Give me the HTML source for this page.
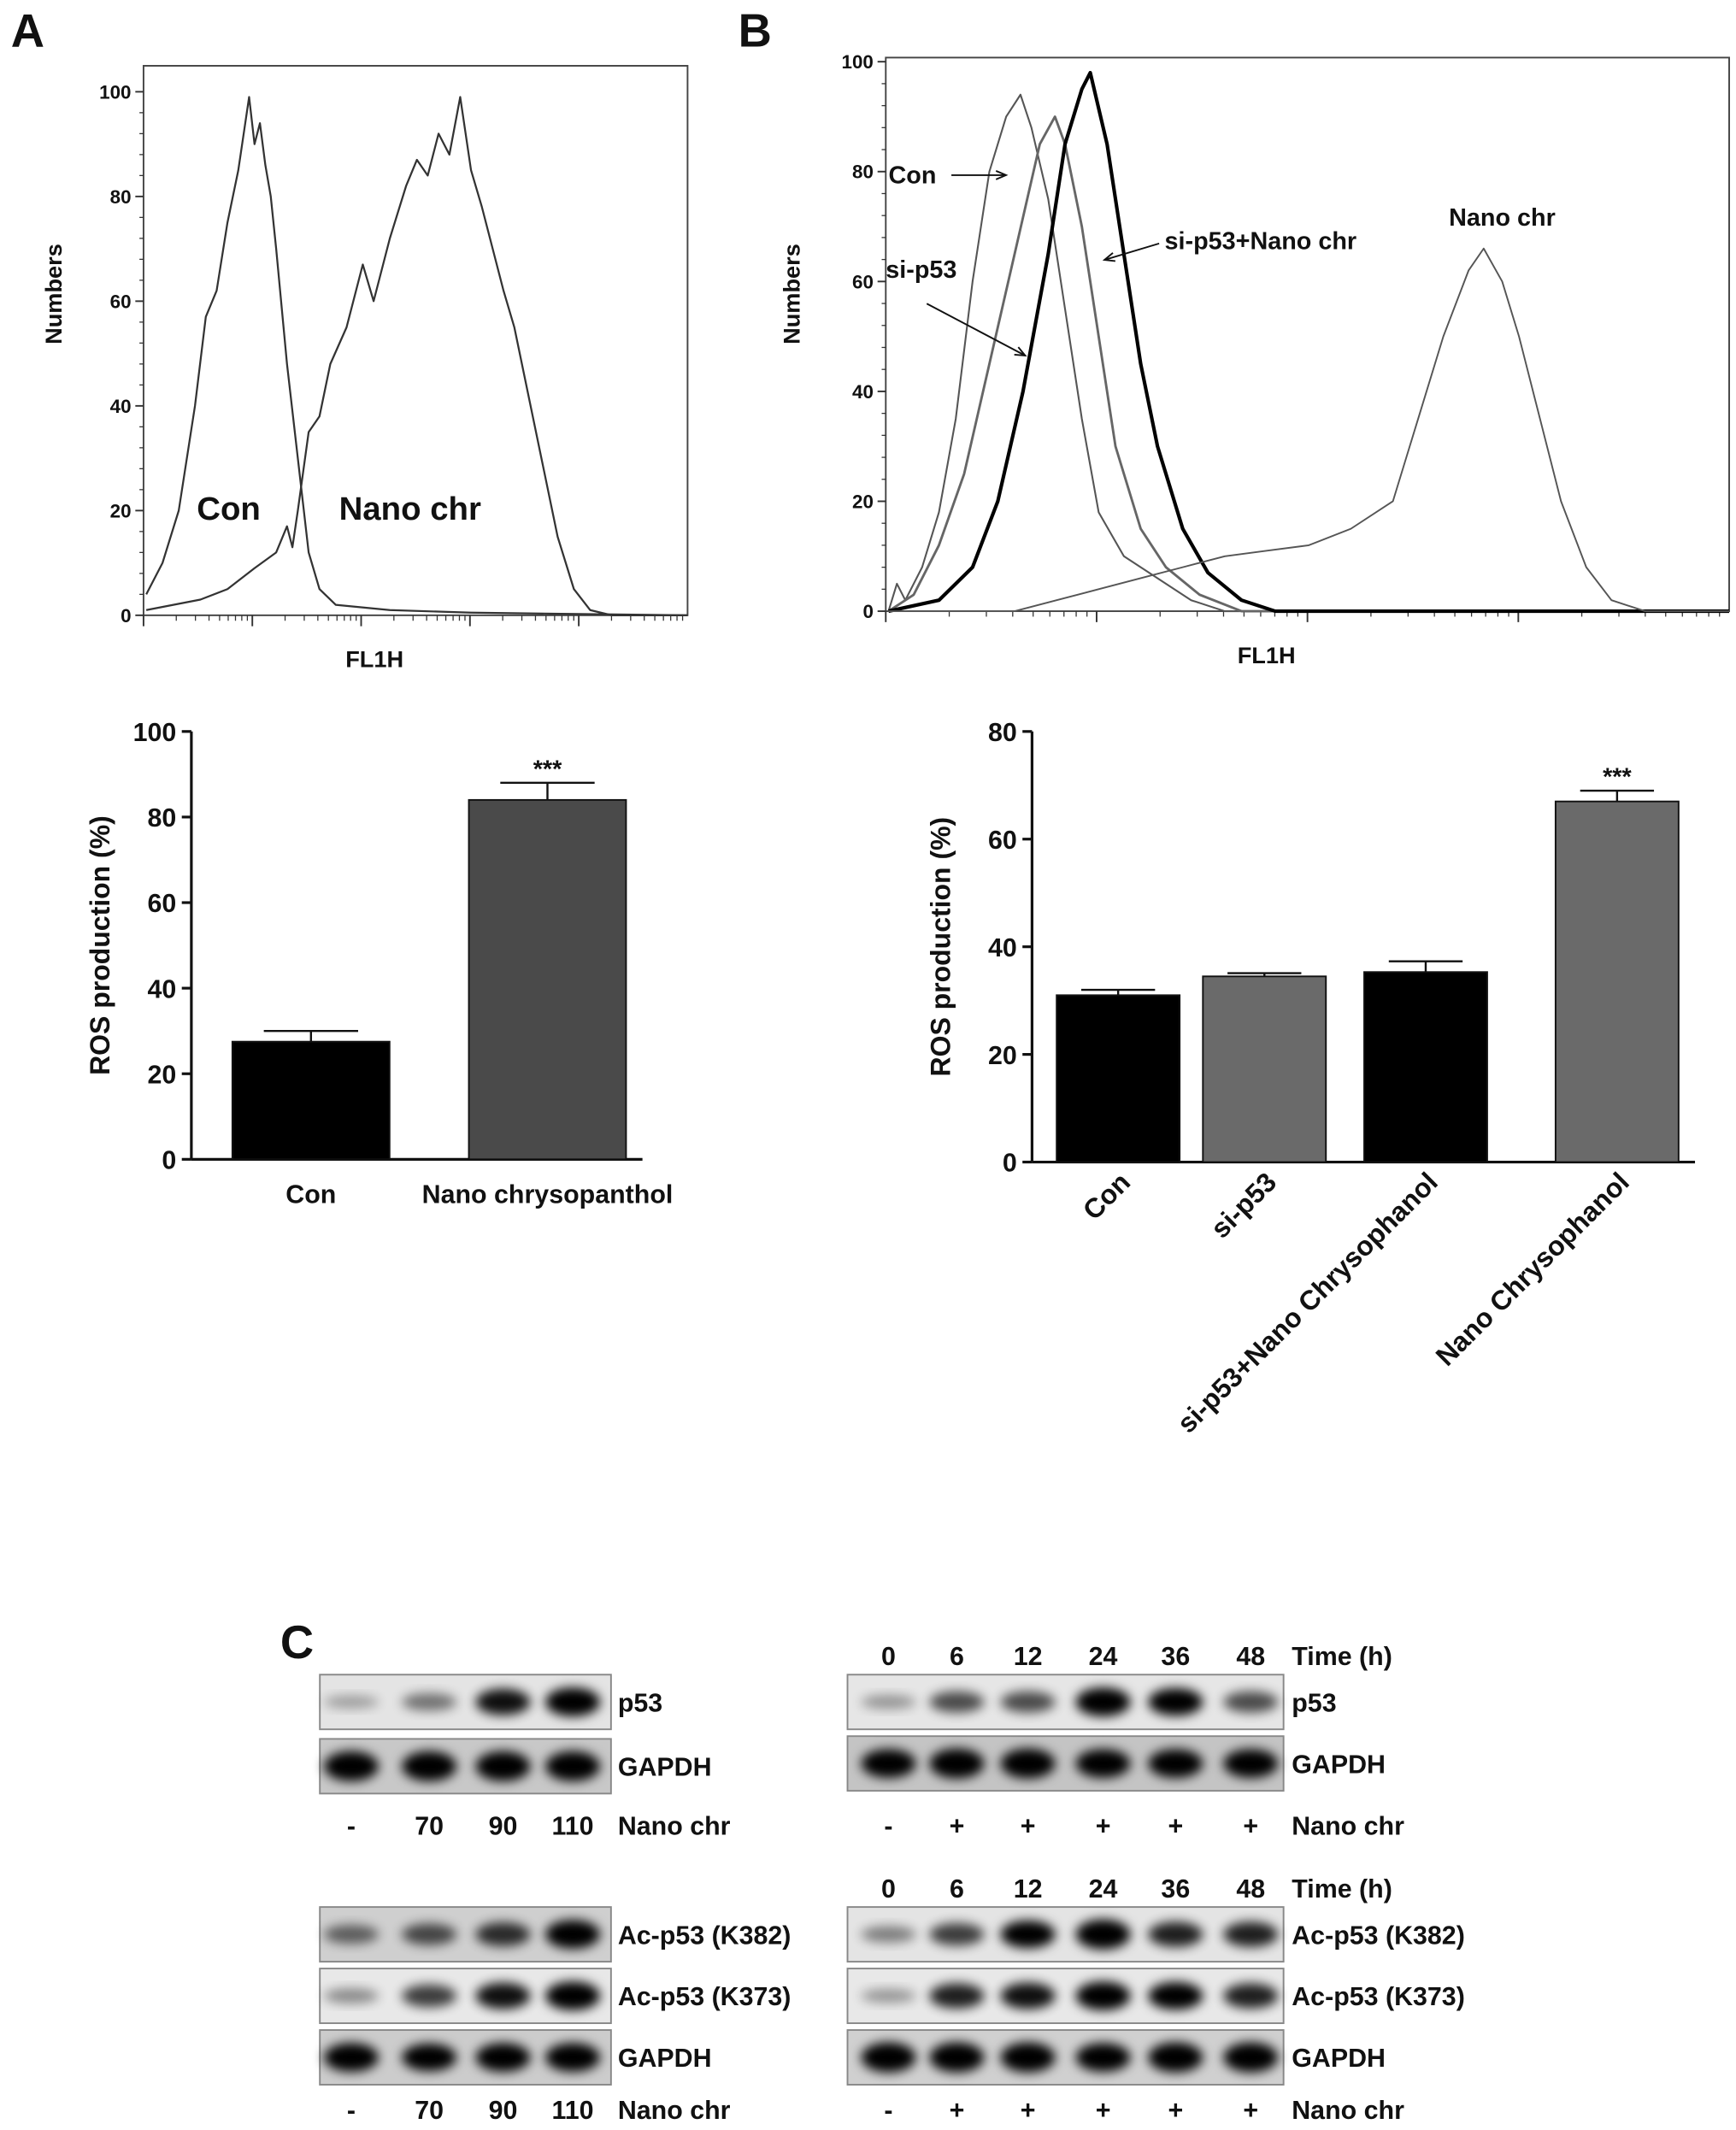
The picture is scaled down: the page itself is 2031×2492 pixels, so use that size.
<!DOCTYPE html>
<html><head><meta charset="utf-8"><style>
html,body{margin:0;padding:0;background:#fff}
svg{display:block}
text{font-family:"Liberation Sans",sans-serif;font-weight:bold;fill:#111}
</style></head><body>
<svg id="fig" width="2031" height="2492" viewBox="0 0 1270 1558" xmlns="http://www.w3.org/2000/svg">
<defs><filter id="blur" x="-50%" y="-50%" width="200%" height="200%"><feGaussianBlur stdDeviation="4"/></filter></defs>
<g id="root"></g>
</svg>
<script>
// ---------- DATA ----------
const histAConX=[0,0.03,0.06,0.09,0.11,0.13,0.15,0.17,0.18,0.19,0.2,0.21,0.22,0.23,0.24,0.26,0.28,0.3,0.32,0.35,0.45,0.6,1];
const histAConY=[4,10,20,40,57,62,75,85,92,99,90,94,86,80,70,48,30,12,5,2,1,0.5,0];
const histANanoX=[0,0.1,0.15,0.2,0.24,0.26,0.27,0.28,0.3,0.32,0.34,0.37,0.4,0.42,0.45,0.48,0.5,0.52,0.54,0.56,0.58,0.6,0.62,0.64,0.66,0.68,0.7,0.73,0.76,0.79,0.82,0.86,1];
const histANanoY=[1,3,5,9,12,17,13,20,35,38,48,55,67,60,72,82,87,84,92,88,99,85,78,70,62,55,45,30,15,5,1,0,0];
const histBConX=[0,0.01,0.02,0.04,0.06,0.08,0.1,0.12,0.14,0.157,0.17,0.19,0.21,0.23,0.25,0.28,0.32,0.36,0.4,1];
const histBConY=[0,5,2,8,18,35,60,80,90,94,88,75,55,35,18,10,6,2,0,0];
const histBSiX=[0,0.03,0.06,0.09,0.12,0.15,0.18,0.198,0.21,0.23,0.25,0.27,0.3,0.33,0.37,0.42,1];
const histBSiY=[0,3,12,25,45,65,85,90,85,70,50,30,15,8,3,0,0];
const histBSiNanoX=[0,0.06,0.1,0.13,0.16,0.19,0.21,0.23,0.24,0.26,0.28,0.3,0.32,0.35,0.38,0.42,0.46,1];
const histBSiNanoY=[0,2,8,20,40,65,85,95,98,85,65,45,30,15,7,2,0,0];
const histBNanoX=[0,0.15,0.2,0.25,0.3,0.35,0.4,0.45,0.5,0.55,0.6,0.63,0.66,0.69,0.708,0.73,0.75,0.77,0.8,0.83,0.86,0.9,1];
const histBNanoY=[0,0,2,4,6,8,10,11,12,15,20,35,50,62,66,60,50,38,20,8,2,0,0];
const barACats=["Con","Nano chrysopanthol"];
const barAVals=[27.5,84];
const barAErr=[2.5,4];
const barATicks=[0,20,40,60,80,100];
const barBCats=["Con","si-p53","si-p53+Nano Chrysophanol","Nano Chrysophanol"];
const barBVals=[31,34.5,35.3,67];
const barBErr=[1,0.6,2,2];
const barBTicks=[0,20,40,60,80];
const doseLabels=["-","70","90","110"];
const timeLabels=["0","6","12","24","36","48"];
const treatLabels=["-","+","+","+","+","+"];
const doseP53=[0.3,0.5,0.85,0.95];
const doseGapdh=[1,1,1,1];
const doseK382=[0.55,0.65,0.75,0.95];
const doseK373=[0.4,0.7,0.85,0.95];
const doseGapdh2=[0.95,0.9,0.95,0.95];
const timeP53=[0.35,0.65,0.65,0.95,0.9,0.65];
const timeGapdh=[0.95,1,1,0.95,0.95,0.95];
const timeK382=[0.45,0.7,0.9,1,0.8,0.8];
const timeK373=[0.35,0.8,0.85,0.95,0.9,0.8];
const timeGapdh2=[1,1,1,0.95,1,1];

// ---------- HELPERS ----------
const NS="http://www.w3.org/2000/svg";
const root=document.getElementById('root');
function el(tag,attrs,parent,txt){const e=document.createElementNS(NS,tag);for(const k in attrs)e.setAttribute(k,attrs[k]);if(txt!==undefined)e.textContent=txt;(parent||root).appendChild(e);return e;}

// ---------- PANEL LETTERS ----------
let t;
t=el('text',{x:8,y:34,'font-size':34});t.textContent='A';

t=el('text',{x:540,y:34,'font-size':34});t.textContent='B';

t=el('text',{x:205,y:1213,'font-size':34});t.textContent='C';


// ---------- HISTOGRAM ----------
function histogram(name,L,R,T,B,y100,ylab,series,xMajor){
  const g=el('g',{});
  
  
  const fy=v=>B-(B-y100)*v/100;
  const fx=f=>L+2+(R-L-2)*f;
  const box=el('rect',{x:L,y:T,width:R-L,height:B-T,fill:'none',stroke:'#444','stroke-width':1.2},g);
  
  for(let v=0;v<=100;v+=20){
    el('line',{x1:L-6,x2:L,y1:fy(v),y2:fy(v),stroke:'#333','stroke-width':1.2},g);
    const tl=el('text',{x:L-9,y:fy(v)+5,'font-size':14,'text-anchor':'end','font-weight':'normal'},g,String(v));
    
  }
  for(let v=0;v<100;v+=4){el('line',{x1:L-3,x2:L,y1:fy(v),y2:fy(v),stroke:'#333','stroke-width':0.8},g);}
  for(let d=0;d<xMajor;d++){
    const x0=L+(R-L)*d/xMajor, w=(R-L)/xMajor;
    el('line',{x1:x0,x2:x0,y1:B,y2:B+8,stroke:'#333','stroke-width':1.2},g);
    for(let k=2;k<10;k++){const x=x0+w*Math.log10(k);el('line',{x1:x,x2:x,y1:B,y2:B+4,stroke:'#333','stroke-width':0.8},g);}
  }
  const yl=el('text',{x:0,y:0,'font-size':17,'text-anchor':'middle',transform:`translate(${ylab[0]},${ylab[1]}) rotate(-90)`},g,'Numbers');
  
  const xl=el('text',{x:(L+R)/2-30,y:B+38,'font-size':17,'text-anchor':'middle'},g,'FL1H');
  
  series.forEach(s=>{
    const pts=s.x.map((f,i)=>fx(f)+','+fy(s.y[i])).join(' ');
    const p=el('polyline',{points:pts,fill:'none',stroke:s.c,'stroke-width':s.w,'stroke-linejoin':'round'},g);
    
  });
  return g;
}
histogram('histogram-a',105,503,48,450,67,[45,215],[
  {x:histAConX,y:histAConY,c:'#333',w:1.4,n:'con-curve'},
  {x:histANanoX,y:histANanoY,c:'#333',w:1.4,n:'nano-chr-curve'}],5);
t=el('text',{x:144,y:380,'font-size':24});t.textContent='Con';

t=el('text',{x:248,y:380,'font-size':24});t.textContent='Nano chr';


histogram('histogram-b',648,1265,42,447,45,[585,215],[
  {x:histBConX,y:histBConY,c:'#555',w:1.3,n:'con-curve'},
  {x:histBSiX,y:histBSiY,c:'#666',w:1.8,n:'si-p53-curve'},
  {x:histBSiNanoX,y:histBSiNanoY,c:'#000',w:2.6,n:'si-p53-nano-chr-curve'},
  {x:histBNanoX,y:histBNanoY,c:'#555',w:1.2,n:'nano-chr-curve'}],4);
const ann=[['Con',650,134,'con-annotation'],['si-p53',648,203,'si-p53-annotation'],['si-p53+Nano chr',852,182,'si-p53-nano-annotation'],['Nano chr',1060,165,'nano-chr-annotation']];
ann.forEach(a=>{const e=el('text',{x:a[1],y:a[2],'font-size':18});e.textContent=a[0];
});
[[696,128,736,128],[678,222,750,260],[848,178,808,190]].forEach(a=>{
  const l=el('line',{x1:a[0],y1:a[1],x2:a[2],y2:a[3],stroke:'#111','stroke-width':1.2});
  
  const ang=Math.atan2(a[3]-a[1],a[2]-a[0]);const h=8;
  el('polyline',{points:`${a[2]-h*Math.cos(ang-0.4)},${a[3]-h*Math.sin(ang-0.4)} ${a[2]},${a[3]} ${a[2]-h*Math.cos(ang+0.4)},${a[3]-h*Math.sin(ang+0.4)}`,fill:'none',stroke:'#111','stroke-width':1.2});
});

// ---------- BAR CHARTS ----------
function barChart(name,axX,yTop,yBot,vmax,ticks,cats,vals,errs,barX,barW,colors,ylx,rot,sig){
  const g=el('g',{});
  
  
  const fy=v=>yBot-(yBot-yTop)*v/vmax;
  el('line',{x1:axX,x2:axX,y1:yTop,y2:yBot,stroke:'#111','stroke-width':2},g);
  el('line',{x1:axX,x2:barX[barX.length-1]+barW+12,y1:yBot,y2:yBot,stroke:'#111','stroke-width':2},g);
  ticks.forEach(v=>{
    el('line',{x1:axX-7,x2:axX,y1:fy(v),y2:fy(v),stroke:'#111','stroke-width':2},g);
    const tl=el('text',{x:axX-11,y:fy(v)+7,'font-size':19,'text-anchor':'end'},g,String(v));
    
  });
  const yl=el('text',{x:0,y:0,'font-size':20,'text-anchor':'middle',transform:`translate(${ylx},${(yTop+yBot)/2}) rotate(-90)`},g,'ROS production (%)');
  
  vals.forEach((v,i)=>{
    const x=barX[i],cx=x+barW/2;
    const e=errs[i];
    el('line',{x1:cx,x2:cx,y1:fy(v),y2:fy(v+e),stroke:'#111','stroke-width':1.5},g);
    el('line',{x1:cx-barW*0.3,x2:cx+barW*0.3,y1:fy(v+e),y2:fy(v+e),stroke:'#111','stroke-width':1.5},g);
    const r=el('rect',{x:x,y:fy(v),width:barW,height:yBot-fy(v),fill:colors[i],stroke:'#111','stroke-width':1.2},g);
    
    
    let lbl;
    if(rot){lbl=el('text',{x:0,y:0,'font-size':20,'text-anchor':'end',transform:`translate(${cx+10},${yBot+16}) rotate(-45)`},g,cats[i]);}
    else{lbl=el('text',{x:cx,y:yBot+32,'font-size':19,'text-anchor':'middle'},g,cats[i]);}
    
  });
  const si=sig;const cx=barX[si]+barW/2;
  const st=el('text',{x:cx,y:fy(vals[si]+errs[si])-4,'font-size':18,'text-anchor':'middle','font-weight':'normal'},g,'***');
  
}
barChart('bar-chart-a',140,535,848,100,barATicks,barACats,barAVals,barAErr,[170,343],115,['#000','#4a4a4a'],80,false,1);
barChart('bar-chart-b',755,535,850,80,barBTicks,barBCats,barBVals,barBErr,[773,880,998,1138],90,['#000','#6a6a6a','#000','#6a6a6a'],695,true,3);

// ---------- WESTERN BLOTS ----------
function blot(name,x,y,w,h,bg,lanes,intens,label,lx){
  const g=el('g',{});
  
  
  el('rect',{x:x,y:y,width:w,height:h,fill:bg,stroke:'#888','stroke-width':1.2},g);
  intens.forEach((v,i)=>{
    const b=el('ellipse',{cx:lanes[i],cy:y+h/2,rx:20,ry:2+9*v,fill:'#000',opacity:Math.min(1,0.15+Math.pow(v,1.5)),filter:'url(#blur)'},g);
    
  });
  const t=el('text',{x:lx,y:y+h/2+7,'font-size':19},g,label);
  
}
const lanesL=[257,314,368,419], lanesR=[650,700,752,807,860,915];
blot('blot-dose-p53',234,1225,213,40,'#e4e4e4',lanesL,doseP53,'p53',452);
blot('blot-dose-gapdh',234,1272,213,40,'#c8c8c8',lanesL,doseGapdh,'GAPDH',452);
blot('blot-time-p53',620,1225,319,40,'#e6e6e6',lanesR,timeP53,'p53',945);
blot('blot-time-gapdh',620,1270,319,40,'#c4c4c4',lanesR,timeGapdh,'GAPDH',945);
blot('blot-dose-k382',234,1395,213,40,'#cfcfcf',lanesL,doseK382,'Ac-p53 (K382)',452);
blot('blot-dose-k373',234,1440,213,40,'#e8e8e8',lanesL,doseK373,'Ac-p53 (K373)',452);
blot('blot-dose-gapdh2',234,1485,213,40,'#cccccc',lanesL,doseGapdh2,'GAPDH',452);
blot('blot-time-k382',620,1395,319,40,'#e4e4e4',lanesR,timeK382,'Ac-p53 (K382)',945);
blot('blot-time-k373',620,1440,319,40,'#e8e8e8',lanesR,timeK373,'Ac-p53 (K373)',945);
blot('blot-time-gapdh2',620,1485,319,40,'#d0d0d0',lanesR,timeGapdh2,'GAPDH',945);

function labelRow(name,lanes,labels,y,tail,tx){
  const g=el('g',{});
  
  
  labels.forEach((s,i)=>{const e=el('text',{x:lanes[i],y:y,'font-size':19,'text-anchor':'middle'},g,s);
    });
  const e=el('text',{x:tx,y:y,'font-size':19},g,tail);
  
}
labelRow('dose-row-top',lanesL,doseLabels,1342,'Nano chr',452);
labelRow('treat-row-top',lanesR,treatLabels,1342,'Nano chr',945);
labelRow('time-row-top',lanesR,timeLabels,1218,'Time (h)',945);
labelRow('time-row-bottom',lanesR,timeLabels,1388,'Time (h)',945);
labelRow('dose-row-bottom',lanesL,doseLabels,1550,'Nano chr',452);
labelRow('treat-row-bottom',lanesR,treatLabels,1550,'Nano chr',945);
</script>
</body></html>
